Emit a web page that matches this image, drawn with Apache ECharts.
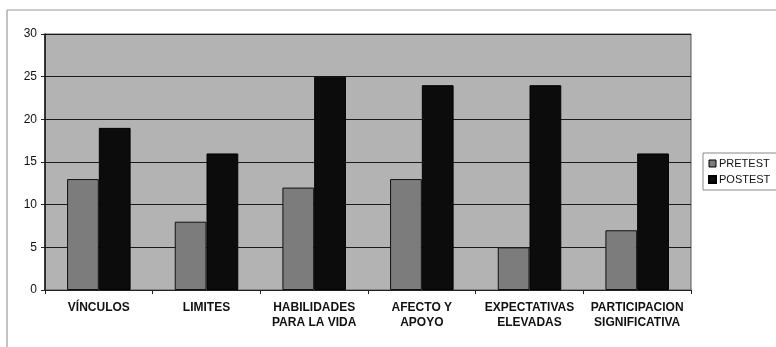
<!DOCTYPE html>
<html>
<head>
<meta charset="utf-8">
<script src="https://cdn.jsdelivr.net/npm/echarts@6/dist/echarts.min.js"></script>
<style>
  html, body { margin: 0; padding: 0; background: #ffffff; }
  #chart { width: 776px; height: 347px; }
</style>
</head>
<body>
<div id="chart"></div>
<script>
// Resilience factors, scores before and after the programme
const categories = [
  'VÍNCULOS',
  'LIMITES',
  'HABILIDADES\nPARA LA VIDA',
  'AFECTO Y\nAPOYO',
  'EXPECTATIVAS\nELEVADAS',
  'PARTICIPACION\nSIGNIFICATIVA'
];
const pretest = [13, 8, 12, 13, 5, 7];
const postest = [19, 16, 25, 24, 24, 16];
const yTicks = [0, 5, 10, 15, 20, 25, 30];

const FONT = '"Liberation Sans", Arial, sans-serif';

const chart = echarts.init(document.getElementById('chart'), null, { renderer: 'canvas' });

chart.setOption({
  animation: false,
  backgroundColor: '#ffffff',
  graphic: [
    // outer chart frame (top and left edges visible)
    { type: 'line', shape: { x1: 7, y1: 10, x2: 776, y2: 10 }, style: { stroke: '#9a9a9a', lineWidth: 1.2 } },
    { type: 'line', shape: { x1: 7, y1: 10, x2: 7, y2: 347 }, style: { stroke: '#9a9a9a', lineWidth: 1.2 } }
  ],
  grid: {
    left: 45, right: 85, top: 34, bottom: 57,
    show: true,
    backgroundColor: '#b3b3b3',
    borderColor: '#555555',
    borderWidth: 1
  },
  legend: {
    left: 703, top: 153,
    orient: 'vertical',
    itemWidth: 7, itemHeight: 7,
    itemGap: 5,
    padding: [5, 20, 5, 5],
    borderColor: '#888888',
    borderWidth: 1,
    backgroundColor: '#ffffff',
    textStyle: { fontFamily: FONT, fontSize: 11, color: '#111', fontWeight: 'normal', padding: [0, 0, 0, -2] },
    data: [
      { name: 'PRETEST', icon: 'rect', itemStyle: { borderColor: '#000', borderWidth: 1 } },
      { name: 'POSTEST', icon: 'rect' }
    ]
  },
  xAxis: {
    type: 'category',
    data: categories,
    axisLine: { lineStyle: { color: '#222', width: 1 } },
    axisTick: { show: true, alignWithLabel: false, length: 4, lineStyle: { color: '#222' } },
    axisLabel: {
      fontFamily: FONT, fontSize: 12, fontWeight: 'bold', color: '#111',
      lineHeight: 15, margin: 10, interval: 0
    }
  },
  yAxis: {
    type: 'value',
    min: yTicks[0], max: yTicks[yTicks.length - 1], interval: 5,
    axisLine: { show: true, lineStyle: { color: '#111', width: 1.5 } },
    axisTick: { show: true, length: 4, lineStyle: { color: '#222' } },
    axisLabel: { fontFamily: FONT, fontSize: 12, color: '#111', margin: 8 },
    splitLine: { show: true, lineStyle: { color: '#1a1a1a', width: 1.2 } }
  },
  series: [
    {
      name: 'PRETEST', type: 'bar', data: pretest,
      barGap: '0%', barCategoryGap: '41%',
      itemStyle: { color: '#7c7c7c', borderColor: '#111', borderWidth: 1 }
    },
    {
      name: 'POSTEST', type: 'bar', data: postest,
      barGap: '0%', barCategoryGap: '41%',
      itemStyle: { color: '#0c0c0c', borderColor: '#000', borderWidth: 1 }
    }
  ]
});
</script>
</body>
</html>
